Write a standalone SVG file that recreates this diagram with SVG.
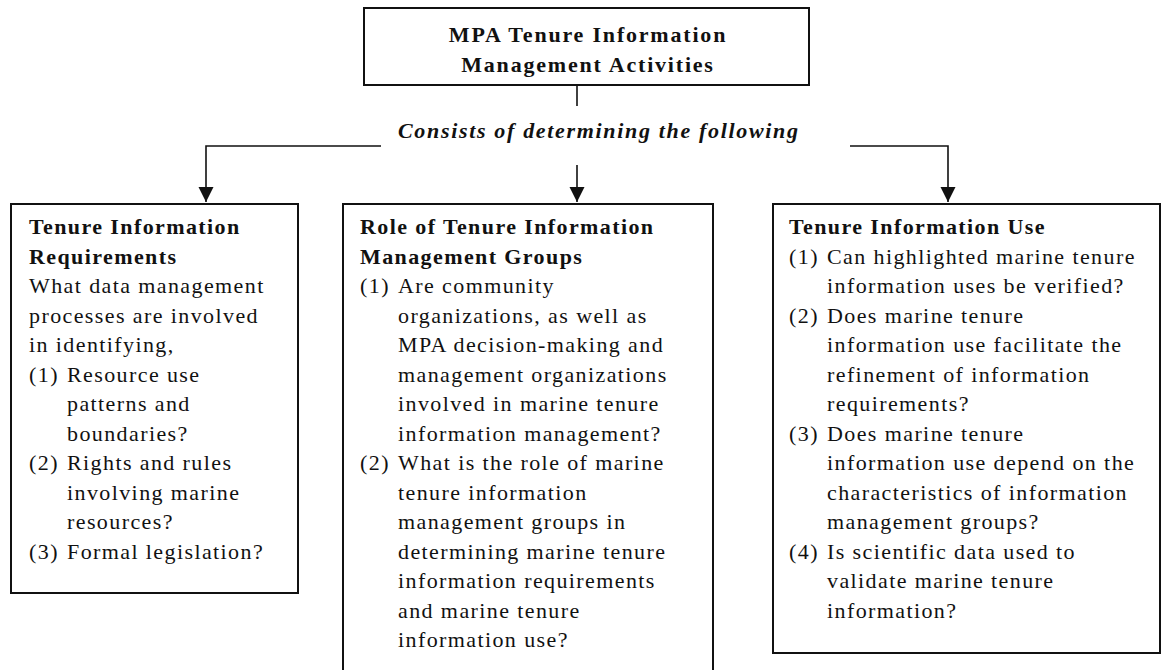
<svg xmlns="http://www.w3.org/2000/svg" width="1162" height="670" viewBox="0 0 1162 670">
  <style>
    .box { fill: #fff; stroke: #111; stroke-width: 2; }
    .wire { fill: none; stroke: #111; stroke-width: 1.6; }
    text { font-family: "Liberation Serif", "Times New Roman", serif; font-size: 22px; fill: #111; letter-spacing: 1.4px; }
    .b { font-weight: bold; }
    .title { font-weight: bold; letter-spacing: 1.8px; text-anchor: middle; }
    .lbl { font-weight: bold; font-style: italic; letter-spacing: 0; }
  </style>
  <defs>
    <marker id="arrow" markerUnits="userSpaceOnUse" markerWidth="16" markerHeight="16" refX="15" refY="7.5" orient="auto">
      <path d="M0,0 L15,7.5 L0,15 Z" fill="#111"/>
    </marker>
  </defs>
  <rect width="1162" height="670" fill="#fff"/>

  <!-- connectors -->
  <g id="connectors">
    <line class="wire" x1="577" y1="85" x2="577" y2="106"/>
    <path class="wire" d="M381,146 H206 V202" marker-end="url(#arrow)"/>
    <path class="wire" d="M577,165 V202" marker-end="url(#arrow)"/>
    <path class="wire" d="M850,146 H948 V202" marker-end="url(#arrow)"/>
    <text id="link-label" class="lbl" x="398" y="138" textLength="400" lengthAdjust="spacing">Consists of determining the following</text>
  </g>

  <!-- root -->
  <g id="node-root">
    <rect class="box" x="364" y="8" width="445" height="77"/>
    <text class="title" x="588" y="42">MPA Tenure Information</text>
    <text class="title" x="588" y="72">Management Activities</text>
  </g>

  <!-- left: requirements -->
  <g id="node-requirements">
    <rect class="box" x="11" y="204" width="287" height="389"/>
    <text class="b"><tspan x="29" y="234">Tenure Information</tspan><tspan x="29" y="263.5">Requirements</tspan></text>
    <text>
      <tspan x="29" y="293">What data management</tspan>
      <tspan x="29" y="322.5">processes are involved</tspan>
      <tspan x="29" y="352">in identifying,</tspan>
      <tspan x="29" y="381.5">(1)</tspan><tspan x="67" y="381.5">Resource use</tspan>
      <tspan x="67" y="411">patterns and</tspan>
      <tspan x="67" y="440.5">boundaries?</tspan>
      <tspan x="29" y="470">(2)</tspan><tspan x="67" y="470">Rights and rules</tspan>
      <tspan x="67" y="499.5">involving marine</tspan>
      <tspan x="67" y="529">resources?</tspan>
      <tspan x="29" y="558.5">(3)</tspan><tspan x="67" y="558.5">Formal legislation?</tspan>
    </text>
  </g>

  <!-- middle: groups -->
  <g id="node-groups">
    <rect class="box" x="343" y="204" width="370" height="480"/>
    <text class="b"><tspan x="360" y="234">Role of Tenure Information</tspan><tspan x="360" y="263.5">Management Groups</tspan></text>
    <text>
      <tspan x="360" y="293">(1)</tspan><tspan x="398" y="293">Are community</tspan>
      <tspan x="398" y="322.5">organizations, as well as</tspan>
      <tspan x="398" y="352">MPA decision-making and</tspan>
      <tspan x="398" y="381.5">management organizations</tspan>
      <tspan x="398" y="411">involved in marine tenure</tspan>
      <tspan x="398" y="440.5">information management?</tspan>
      <tspan x="360" y="470">(2)</tspan><tspan x="398" y="470">What is the role of marine</tspan>
      <tspan x="398" y="499.5">tenure information</tspan>
      <tspan x="398" y="529">management groups in</tspan>
      <tspan x="398" y="558.5">determining marine tenure</tspan>
      <tspan x="398" y="588">information requirements</tspan>
      <tspan x="398" y="617.5">and marine tenure</tspan>
      <tspan x="398" y="647">information use?</tspan>
    </text>
  </g>

  <!-- right: use -->
  <g id="node-use">
    <rect class="box" x="773" y="204" width="387" height="449"/>
    <text class="b"><tspan x="789" y="234">Tenure Information Use</tspan></text>
    <text>
      <tspan x="789" y="263.5">(1)</tspan><tspan x="827" y="263.5">Can highlighted marine tenure</tspan>
      <tspan x="827" y="293">information uses be verified?</tspan>
      <tspan x="789" y="322.5">(2)</tspan><tspan x="827" y="322.5">Does marine tenure</tspan>
      <tspan x="827" y="352">information use facilitate the</tspan>
      <tspan x="827" y="381.5">refinement of information</tspan>
      <tspan x="827" y="411">requirements?</tspan>
      <tspan x="789" y="440.5">(3)</tspan><tspan x="827" y="440.5">Does marine tenure</tspan>
      <tspan x="827" y="470">information use depend on the</tspan>
      <tspan x="827" y="499.5">characteristics of information</tspan>
      <tspan x="827" y="529">management groups?</tspan>
      <tspan x="789" y="558.5">(4)</tspan><tspan x="827" y="558.5">Is scientific data used to</tspan>
      <tspan x="827" y="588">validate marine tenure</tspan>
      <tspan x="827" y="617.5">information?</tspan>
    </text>
  </g>
</svg>
